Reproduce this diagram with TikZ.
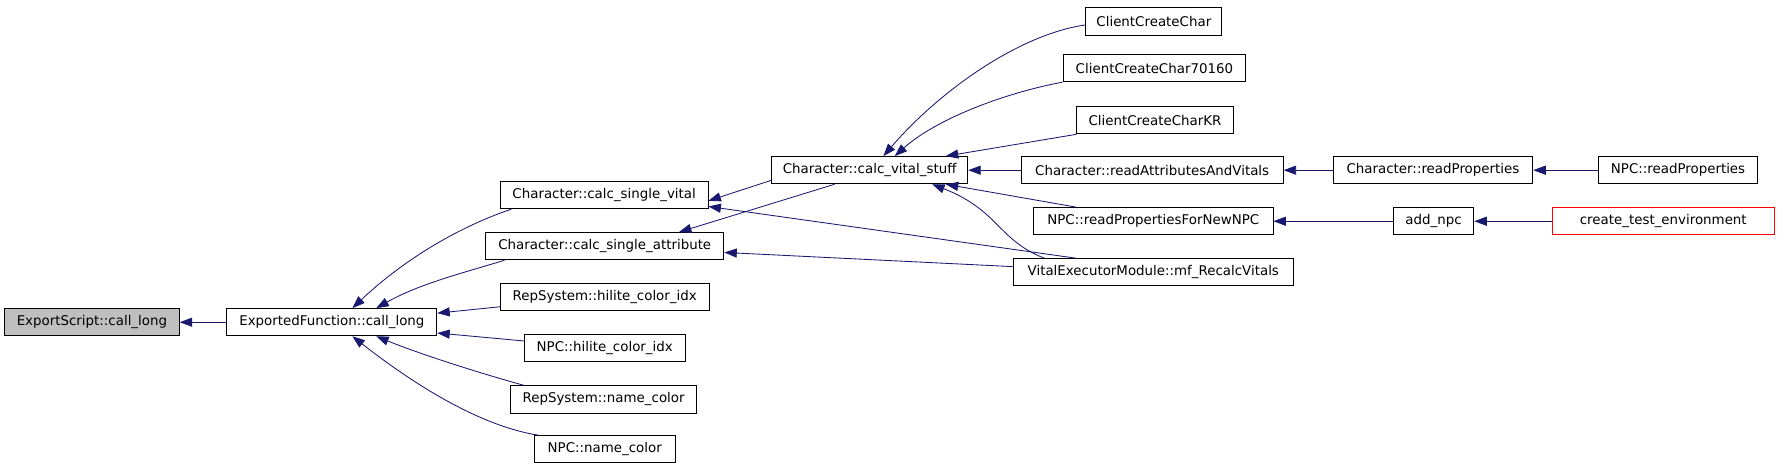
\documentclass[tikz,border=0pt]{standalone}
\usepackage{fontspec}
\setmainfont{DejaVu Sans}
\usetikzlibrary{arrows.meta}
\definecolor{edgeblue}{RGB}{25,25,112}
\definecolor{grayfill}{RGB}{191,191,191}
\begin{document}
\begin{tikzpicture}[x=1pt,y=-1pt,
  fn/.style={draw=black, line width=0.8pt, minimum height=24pt, inner sep=0pt, font=\fontsize{11.8}{14}\selectfont, anchor=center},
  edge/.style={draw=edgeblue, line width=0.75pt, -{Triangle[length=11pt,width=8pt]}}]
\useasboundingbox (0,0) rectangle (1568,412);
% nodes
\node[fn, minimum width=154pt, fill=grayfill] (es) at (81,284) {ExportScript::call\_long};
\node[fn, minimum width=185pt] (ef) at (292.5,284) {ExportedFunction::call\_long};
\node[fn, minimum width=183pt] (csv) at (532.5,172) {Character::calc\_single\_vital};
\node[fn, minimum width=210pt] (csa) at (533,217) {Character::calc\_single\_attribute};
\node[fn, minimum width=184pt] (rhc) at (533,262) {RepSystem::hilite\_color\_idx};
\node[fn, minimum width=142pt] (nhc) at (533,307) {NPC::hilite\_color\_idx};
\node[fn, minimum width=164pt] (rnc) at (532,352) {RepSystem::name\_color};
\node[fn, minimum width=124pt] (nnc) at (533,396) {NPC::name\_color};
\node[fn, minimum width=173pt] (cvs) at (766.5,150) {Character::calc\_vital\_stuff};
\node[fn, minimum width=120pt] (ccc) at (1017,19) {ClientCreateChar};
\node[fn, minimum width=161pt] (c70) at (1017.5,60) {ClientCreateChar70160};
\node[fn, minimum width=138pt] (ckr) at (1018,106) {ClientCreateCharKR};
\node[fn, minimum width=231pt] (rav) at (1015.5,150) {Character::readAttributesAndVitals};
\node[fn, minimum width=211pt] (rpn) at (1016.5,195) {NPC::readPropertiesForNewNPC};
\node[fn, minimum width=247pt] (vem) at (1016.5,240) {VitalExecutorModule::mf\_RecalcVitals};
\node[fn, minimum width=176pt] (crp) at (1263,150) {Character::readProperties};
\node[fn, minimum width=71pt] (add) at (1263.5,195) {add\_npc};
\node[fn, minimum width=140pt] (nrp) at (1479,150) {NPC::readProperties};
\node[fn, minimum width=196pt, draw=red] (cte) at (1466,195) {create\_test\_environment};
% edges
\draw[edge] (ef.west) -- (es.east);
\draw[edge] ([xshift=10pt]csv.south west) .. controls (410,198) and (360,225) .. ([xshift=111pt]ef.north west);
\draw[edge] ([xshift=17pt]csa.south west) .. controls (410,240) and (370,250) .. ([xshift=132pt]ef.north west);
\draw[edge] ([yshift=4pt]rhc.south west) -- ([yshift=8pt]ef.east);
\draw[edge] ([yshift=6.5pt]nhc.west) -- ([yshift=-9.5pt]ef.east);
\draw[edge] ([xshift=12pt]rnc.north west) .. controls (420,328) and (370,312) .. ([xshift=132pt]ef.south west);
\draw[edge] ([xshift=4pt]nnc.north west) .. controls (420,375) and (360,335) .. ([xshift=111pt]ef.south west);
\draw[edge] ([yshift=-9pt]cvs.west) -- ([yshift=-5pt]csv.east);
\draw[edge] ([xshift=56pt]vem.north west) -- ([yshift=-10pt]csv.east);
\draw[edge] ([yshift=5pt]vem.west) -- ([yshift=-5.5pt]csa.east);
\draw[edge] ([xshift=56pt]cvs.south west) -- ([xshift=-40pt]csa.north east);
\draw[edge] ([yshift=-3pt]ccc.west) .. controls (900,30) and (830,78) .. ([xshift=99pt]cvs.north west);
\draw[edge] (c70.south west) .. controls (885,82) and (825,105) .. ([xshift=109pt]cvs.north west);
\draw[edge] (ckr.south west) -- ([xshift=154pt]cvs.north west);
\draw[edge] (rav.west) -- (cvs.east);
\draw[edge] ([xshift=38pt]rpn.north west) -- ([xshift=154pt]cvs.south west);
\draw[edge] ([xshift=28pt]vem.north west) .. controls (880,212) and (880,185) .. ([xshift=142pt]cvs.south west);
\draw[edge] (crp.west) -- (rav.east);
\draw[edge] (nrp.west) -- (crp.east);
\draw[edge] (add.west) -- (rpn.east);
\draw[edge] (cte.west) -- (add.east);
\end{tikzpicture}
\end{document}
